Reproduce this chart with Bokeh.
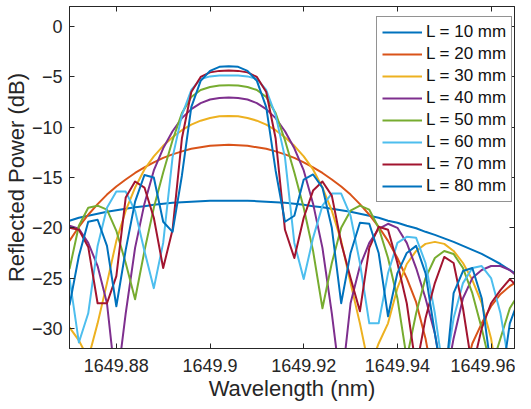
from bokeh.plotting import figure
from bokeh.models import Range1d, FixedTicker, LinearAxis, Legend, LegendItem
from bokeh.embed import file_html
from bokeh.resources import INLINE

# Sample wavelengths (nm)
wavelength_nm = [1649.870, 1649.872, 1649.874, 1649.876, 1649.878, 1649.880, 1649.882, 1649.884, 1649.886, 1649.888,
                 1649.890, 1649.892, 1649.894, 1649.896, 1649.898, 1649.900, 1649.902, 1649.904, 1649.906, 1649.908,
                 1649.910, 1649.912, 1649.914, 1649.916, 1649.918, 1649.920, 1649.922, 1649.924, 1649.926, 1649.928,
                 1649.930, 1649.932, 1649.934, 1649.936, 1649.938, 1649.940, 1649.942, 1649.944, 1649.946, 1649.948,
                 1649.950, 1649.952, 1649.954, 1649.956, 1649.958, 1649.960, 1649.962, 1649.964, 1649.966]

# Reflected power (dB) per grating length
r_10mm = [-19.3, -19.0, -18.8, -18.6, -18.4, -18.25, -18.1, -17.95, -17.85, -17.7,
          -17.6, -17.5, -17.45, -17.4, -17.35, -17.3, -17.3, -17.3, -17.3, -17.3,
          -17.35, -17.4, -17.45, -17.5, -17.6, -17.7, -17.85, -17.95, -18.1, -18.25,
          -18.4, -18.6, -18.8, -19.0, -19.3, -19.5, -19.8, -20.05, -20.4, -20.7,
          -21.05, -21.4, -21.8, -22.2, -22.6, -23.1, -23.6, -24.2, -24.75]
r_20mm = [-21.3, -19.9, -18.7, -17.65, -16.7, -15.9, -15.2, -14.55, -14.0, -13.5,
          -13.05, -12.7, -12.4, -12.15, -12.0, -11.85, -11.8, -11.75, -11.8, -11.85,
          -12.0, -12.15, -12.4, -12.7, -13.05, -13.5, -14.0, -14.55, -15.2, -15.9,
          -16.7, -17.65, -18.7, -19.9, -21.3, -23.0, -25.0, -27.4, -31.0, -36.0,
          -45.0, -40.0, -35.0, -31.5, -29.5, -27.8, -26.6, -25.8, -25.2]
r_30mm = [-29.9, -31.2, -33.0, -29.5, -25.5, -21.3, -18.3, -16.0, -14.2, -12.9,
          -11.85, -11.0, -10.3, -9.75, -9.35, -9.08, -8.92, -8.88, -8.92, -9.08,
          -9.35, -9.75, -10.3, -11.0, -11.85, -12.9, -14.2, -16.0, -18.3, -21.3,
          -25.5, -29.5, -34.0, -31.5, -29.5, -26.0, -23.6, -22.3, -21.6, -21.4,
          -21.6, -22.3, -23.5, -25.2, -27.5, -31.0, -37.0, -45.0, -38.0]
r_40mm = [-19.8, -20.1, -21.5, -23.8, -27.5, -36.0, -28.5, -22.0, -17.6, -14.3,
          -12.1, -10.4, -9.1, -8.2, -7.6, -7.25, -7.1, -7.05, -7.1, -7.25,
          -7.6, -8.2, -9.1, -10.4, -12.1, -14.3, -17.6, -22.0, -28.5, -36.0,
          -27.5, -23.8, -21.5, -20.1, -19.6, -20.0, -21.5, -24.0, -27.0, -30.5,
          -36.0, -31.0, -27.0, -25.0, -24.2, -23.8, -23.8, -24.2, -25.0]
r_50mm = [-24.1, -19.8, -18.0, -17.8, -18.2, -20.3, -23.5, -27.1, -22.3, -18.0,
          -14.5, -11.3, -8.6, -7.0, -6.3, -6.0, -5.85, -5.84, -5.85, -6.0,
          -6.3, -7.0, -8.6, -11.3, -14.5, -18.0, -22.3, -28.0, -23.5, -20.0,
          -18.3, -17.8, -18.2, -20.0, -23.0, -27.0, -33.0, -28.5, -25.0, -23.0,
          -22.3, -22.6, -24.0, -26.5, -30.0, -34.0, -31.0, -28.0, -26.5]
r_60mm = [-25.0, -31.4, -28.5, -21.8, -18.0, -16.4, -16.4, -18.3, -22.3, -26.0,
          -21.5, -13.0, -8.8, -6.3, -5.2, -4.95, -4.85, -4.85, -4.85, -4.95,
          -5.2, -6.3, -8.8, -13.0, -21.5, -25.1, -21.0, -17.8, -16.6, -16.6,
          -18.8, -23.5, -29.5, -29.5, -24.5, -21.5, -20.9, -21.0, -23.5, -28.5,
          -35.0, -29.0, -25.5, -24.0, -23.8, -25.0, -28.5, -34.0, -34.0]
r_70mm = [-20.0, -20.2, -21.9, -27.5, -27.5, -24.8, -17.0, -15.4, -16.0, -19.0,
          -24.0, -20.2, -11.1, -6.5, -5.0, -4.55, -4.4, -4.36, -4.4, -4.55,
          -5.0, -6.5, -11.1, -20.2, -23.0, -19.0, -16.3, -15.4, -16.8, -21.5,
          -25.0, -28.3, -22.0, -19.9, -20.2, -23.5, -27.5, -34.0, -29.0, -25.5,
          -22.9, -23.5, -28.0, -34.0, -30.0, -27.5, -26.2, -25.1, -26.0]
r_80mm = [-27.7, -22.8, -19.4, -19.2, -21.8, -27.8, -22.2, -17.4, -14.75, -15.0,
          -19.4, -20.4, -14.8, -8.0, -5.4, -4.4, -4.0, -3.93, -4.0, -4.4,
          -5.4, -8.0, -14.3, -19.4, -18.8, -15.2, -14.7, -16.0, -20.0, -27.5,
          -22.5, -19.5, -19.6, -22.5, -28.8, -24.5, -22.5, -21.8, -24.5, -30.5,
          -36.0, -26.5, -24.3, -24.0, -27.0, -34.0, -36.0, -29.5, -27.0]

series = [r_10mm, r_20mm, r_30mm, r_40mm, r_50mm, r_60mm, r_70mm, r_80mm]
labels = ["L = 10 mm", "L = 20 mm", "L = 30 mm", "L = 40 mm",
          "L = 50 mm", "L = 60 mm", "L = 70 mm", "L = 80 mm"]
colors = ["#0072BD", "#D95319", "#EDB120", "#7E2F8E",
          "#77AC30", "#4DBEEE", "#A2142F", "#0072BD"]

x_ticks = [1649.88, 1649.9, 1649.92, 1649.94, 1649.96]
x_tick_labels = ["1649.88", "1649.9", "1649.92", "1649.94", "1649.96"]
y_ticks = [-30, -25, -20, -15, -10, -5, 0]

FONT = "Liberation Sans"
INK = "#262626"

p = figure(width=515, height=406, output_backend="svg", toolbar_location=None,
           x_range=Range1d(1649.87, 1649.965), y_range=Range1d(-32, 2),
           min_border_left=62, min_border_right=1, min_border_top=6, min_border_bottom=58,
           x_axis_label="Wavelength (nm)", y_axis_label="Reflected Power (dB)")
p.grid.visible = False
p.outline_line_color = INK
p.outline_line_width = 1
p.background_fill_color = "white"
p.border_fill_color = "white"

xa = p.xaxis[0]
xa.ticker = FixedTicker(ticks=x_ticks)
xa.major_label_overrides = {t: s for t, s in zip(x_ticks, x_tick_labels)}
ya = p.yaxis[0]
ya.ticker = FixedTicker(ticks=y_ticks)

for ax in (xa, ya):
    ax.major_tick_in = 5
    ax.major_tick_out = 0
    ax.minor_tick_in = 0
    ax.minor_tick_out = 0
    ax.axis_line_color = INK
    ax.major_tick_line_color = INK
    ax.major_label_text_font = FONT
    ax.major_label_text_font_size = "18px"
    ax.major_label_text_color = INK
    ax.axis_label_text_font = FONT
    ax.axis_label_text_font_size = "22px"
    ax.axis_label_text_font_style = "normal"
    ax.axis_label_text_color = INK
xa.major_label_standoff = 10
xa.axis_label_standoff = 1
ya.major_label_standoff = 7
ya.axis_label_standoff = 0

# tick marks on the top and right edges of the box (no labels)
top = LinearAxis(ticker=FixedTicker(ticks=x_ticks), major_label_text_font_size="0px",
                 major_label_text_color=None, major_label_standoff=0,
                 major_tick_in=5, major_tick_out=0, minor_tick_in=0, minor_tick_out=0,
                 axis_line_color=INK, major_tick_line_color=INK)
top.major_label_overrides = {t: "" for t in x_ticks}
p.add_layout(top, "above")
right = LinearAxis(ticker=FixedTicker(ticks=y_ticks), major_label_text_font_size="0px",
                   major_label_text_color=None, major_label_standoff=0,
                   major_tick_in=5, major_tick_out=0, minor_tick_in=0, minor_tick_out=0,
                   axis_line_color=INK, major_tick_line_color=INK)
right.major_label_overrides = {t: "" for t in y_ticks}
p.add_layout(right, "right")

renderers = []
for vals, col in zip(series, colors):
    r = p.line(wavelength_nm, vals, line_color=col, line_width=2, line_join="round")
    renderers.append(r)

items = [LegendItem(label=lab, renderers=[r]) for lab, r in zip(labels, renderers)]
legend = Legend(items=items, location=(307, 146),
                label_text_font=FONT, label_text_font_size="17px", label_text_color="#111111",
                glyph_width=40, glyph_height=20, label_height=20, label_standoff=4,
                spacing=2, padding=5, margin=0,
                border_line_color=INK, border_line_width=1,
                background_fill_color="white", background_fill_alpha=1.0)
p.add_layout(legend)

open("out.html", "w").write(file_html(p, INLINE))
